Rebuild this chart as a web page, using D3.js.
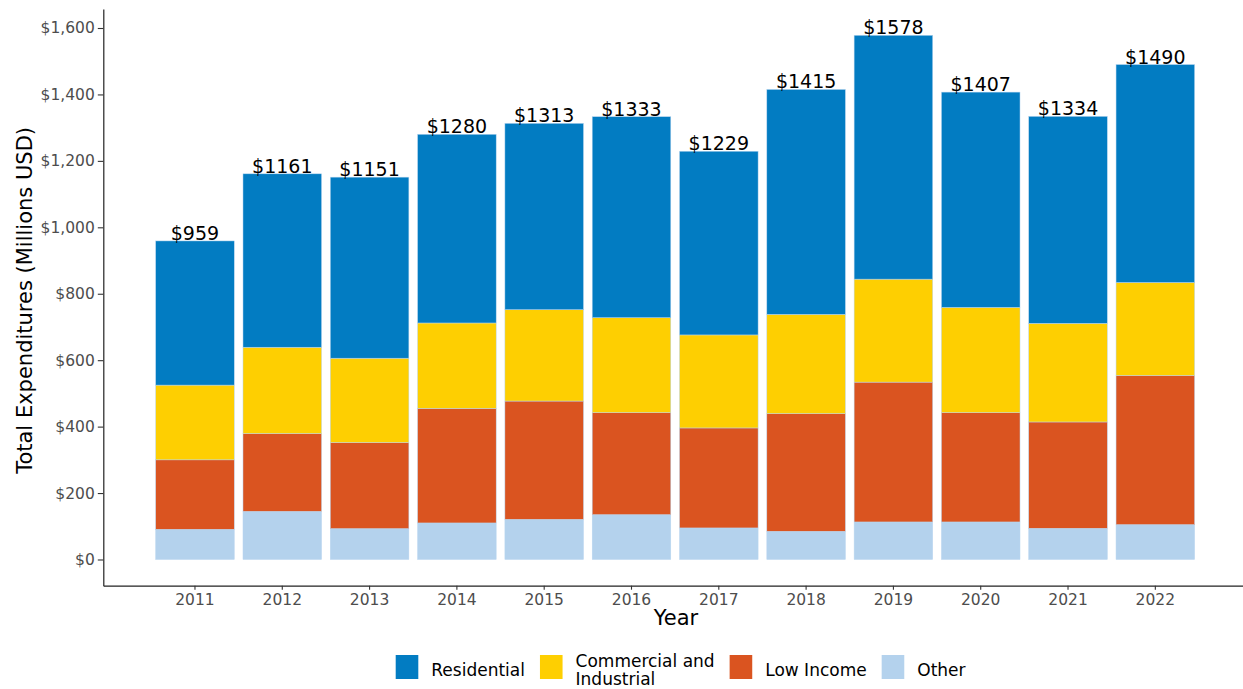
<!DOCTYPE html>
<html>
<head>
<meta charset="utf-8">
<script src="https://cdn.jsdelivr.net/npm/d3@7"></script>
<style>
  html, body { margin: 0; padding: 0; background: #fff; }
  svg { display: block; font-family: "DejaVu Sans", sans-serif; }
</style>
</head>
<body>
<svg id="chart" width="1243" height="689"></svg>
<script>
// Annual program expenditures by sector, millions USD
const years       = ["2011","2012","2013","2014","2015","2016","2017","2018","2019","2020","2021","2022"];
const residential = [434, 522, 545, 568, 561, 605, 553, 677, 734, 648, 623, 656];
const commercial  = [225, 260, 254, 257, 275, 286, 280, 299, 310, 317, 297, 280];
const lowIncome   = [209, 234, 259, 345, 356, 307, 301, 354, 421, 329, 320, 449];
const other       = [ 91, 145,  93, 110, 121, 135,  95,  85, 113, 113,  94, 105];
const yTicks      = [0, 200, 400, 600, 800, 1000, 1200, 1400, 1600];

// Stack order, bottom to top
const seriesKeys   = ["other", "lowIncome", "commercial", "residential"];
const seriesValues = { other, lowIncome, commercial, residential };
const seriesColors = { residential: "#027cc2", commercial: "#fecf01", lowIncome: "#da5420", other: "#b4d2ed" };
// Legend order and labels
const legendKeys   = ["residential", "commercial", "lowIncome", "other"];
const legendLabels = { residential: ["Residential"], commercial: ["Commercial and", "Industrial"], lowIncome: ["Low Income"], other: ["Other"] };

const rows = years.map((yr, i) => {
  const r = { year: yr };
  seriesKeys.forEach(k => { r[k] = seriesValues[k][i]; });
  r.total = seriesKeys.reduce((s, k) => s + r[k], 0);
  return r;
});

const svg = d3.select("#chart");
const panel = { left: 103.3, right: 1247, top: 9.1, bottom: 585.7 };

const maxTotal = d3.max(rows, d => d.total);
const y = d3.scaleLinear()
  .domain([-0.05 * maxTotal, 1.05 * maxTotal])
  .range([panel.bottom, panel.top]);

const x = d3.scaleBand()
  .domain(years)
  .range([panel.left, panel.right])
  .paddingInner(0.1)
  .paddingOuter(0.6);

const stacked = d3.stack().keys(seriesKeys)(rows);

// Bars
svg.append("g").selectAll("g")
  .data(stacked)
  .join("g")
    .attr("fill", s => seriesColors[s.key])
  .selectAll("rect")
  .data(s => s)
  .join("rect")
    .attr("x", d => x(d.data.year))
    .attr("width", x.bandwidth())
    .attr("y", d => y(d[1]))
    .attr("height", d => y(d[0]) - y(d[1]))
    .attr("stroke", "#b9d6f0")
    .attr("stroke-width", 0.5);

// Total labels above each bar
svg.append("g").selectAll("text")
  .data(rows)
  .join("text")
    .attr("x", d => x(d.year) + x.bandwidth() / 2)
    .attr("y", d => y(d.total) - 1)
    .attr("text-anchor", "middle")
    .attr("font-size", 19)
    .attr("fill", "#000")
    .text(d => "$" + d.total);

// Y axis
const yAxis = svg.append("g")
  .attr("transform", `translate(${panel.left},0)`)
  .call(d3.axisLeft(y).tickValues(yTicks).tickFormat(d3.format("$,")).tickSize(5.5).tickSizeOuter(0).tickPadding(3));
yAxis.select(".domain").attr("stroke", "#222").attr("stroke-width", 1.2);
yAxis.selectAll(".tick line").attr("stroke", "#333").attr("stroke-width", 1.1);
yAxis.selectAll(".tick text").attr("font-size", 15.5).attr("fill", "#4d4d4d").attr("font-family", "DejaVu Sans");

// X axis
const xAxis = svg.append("g")
  .attr("transform", `translate(0,${panel.bottom})`)
  .call(d3.axisBottom(x).tickSize(4).tickSizeOuter(0).tickPadding(4));
xAxis.select(".domain").attr("stroke", "#222").attr("stroke-width", 1.2);
xAxis.selectAll(".tick line").attr("stroke", "#333").attr("stroke-width", 1.1);
xAxis.selectAll(".tick text").attr("font-size", 15.5).attr("fill", "#4d4d4d").attr("font-family", "DejaVu Sans")
  .attr("dy", null).attr("y", 19.5);

// Axis titles
svg.append("text")
  .attr("transform", `translate(31.5,${(panel.top + panel.bottom) / 2 + 3}) rotate(-90)`)
  .attr("text-anchor", "middle")
  .attr("font-size", 21)
  .attr("fill", "#000")
  .text("Total Expenditures (Millions USD)");

svg.append("text")
  .attr("x", 676)
  .attr("y", 625)
  .attr("text-anchor", "middle")
  .attr("font-size", 21)
  .attr("fill", "#000")
  .text("Year");

// Legend
const legend = svg.append("g");
const keyW = 22.6, keyH = 24, keyTop = 655, textGap = 13, itemGap = 15;
let cursor = 395.7;
legendKeys.forEach(k => {
  const item = legend.append("g");
  item.append("rect")
    .attr("x", cursor).attr("y", keyTop)
    .attr("width", keyW).attr("height", keyH)
    .attr("fill", seriesColors[k]);
  const lines = legendLabels[k];
  const t = item.append("text")
    .attr("font-size", 17)
    .attr("fill", "#000");
  const baseY = lines.length === 1 ? 676 : 667;
  lines.forEach((ln, i) => {
    t.append("tspan").attr("x", cursor + keyW + textGap).attr("y", baseY + i * 18).text(ln);
  });
  const w = t.node().getBBox().width;
  cursor += keyW + textGap + w + itemGap;
});
</script>
</body>
</html>
